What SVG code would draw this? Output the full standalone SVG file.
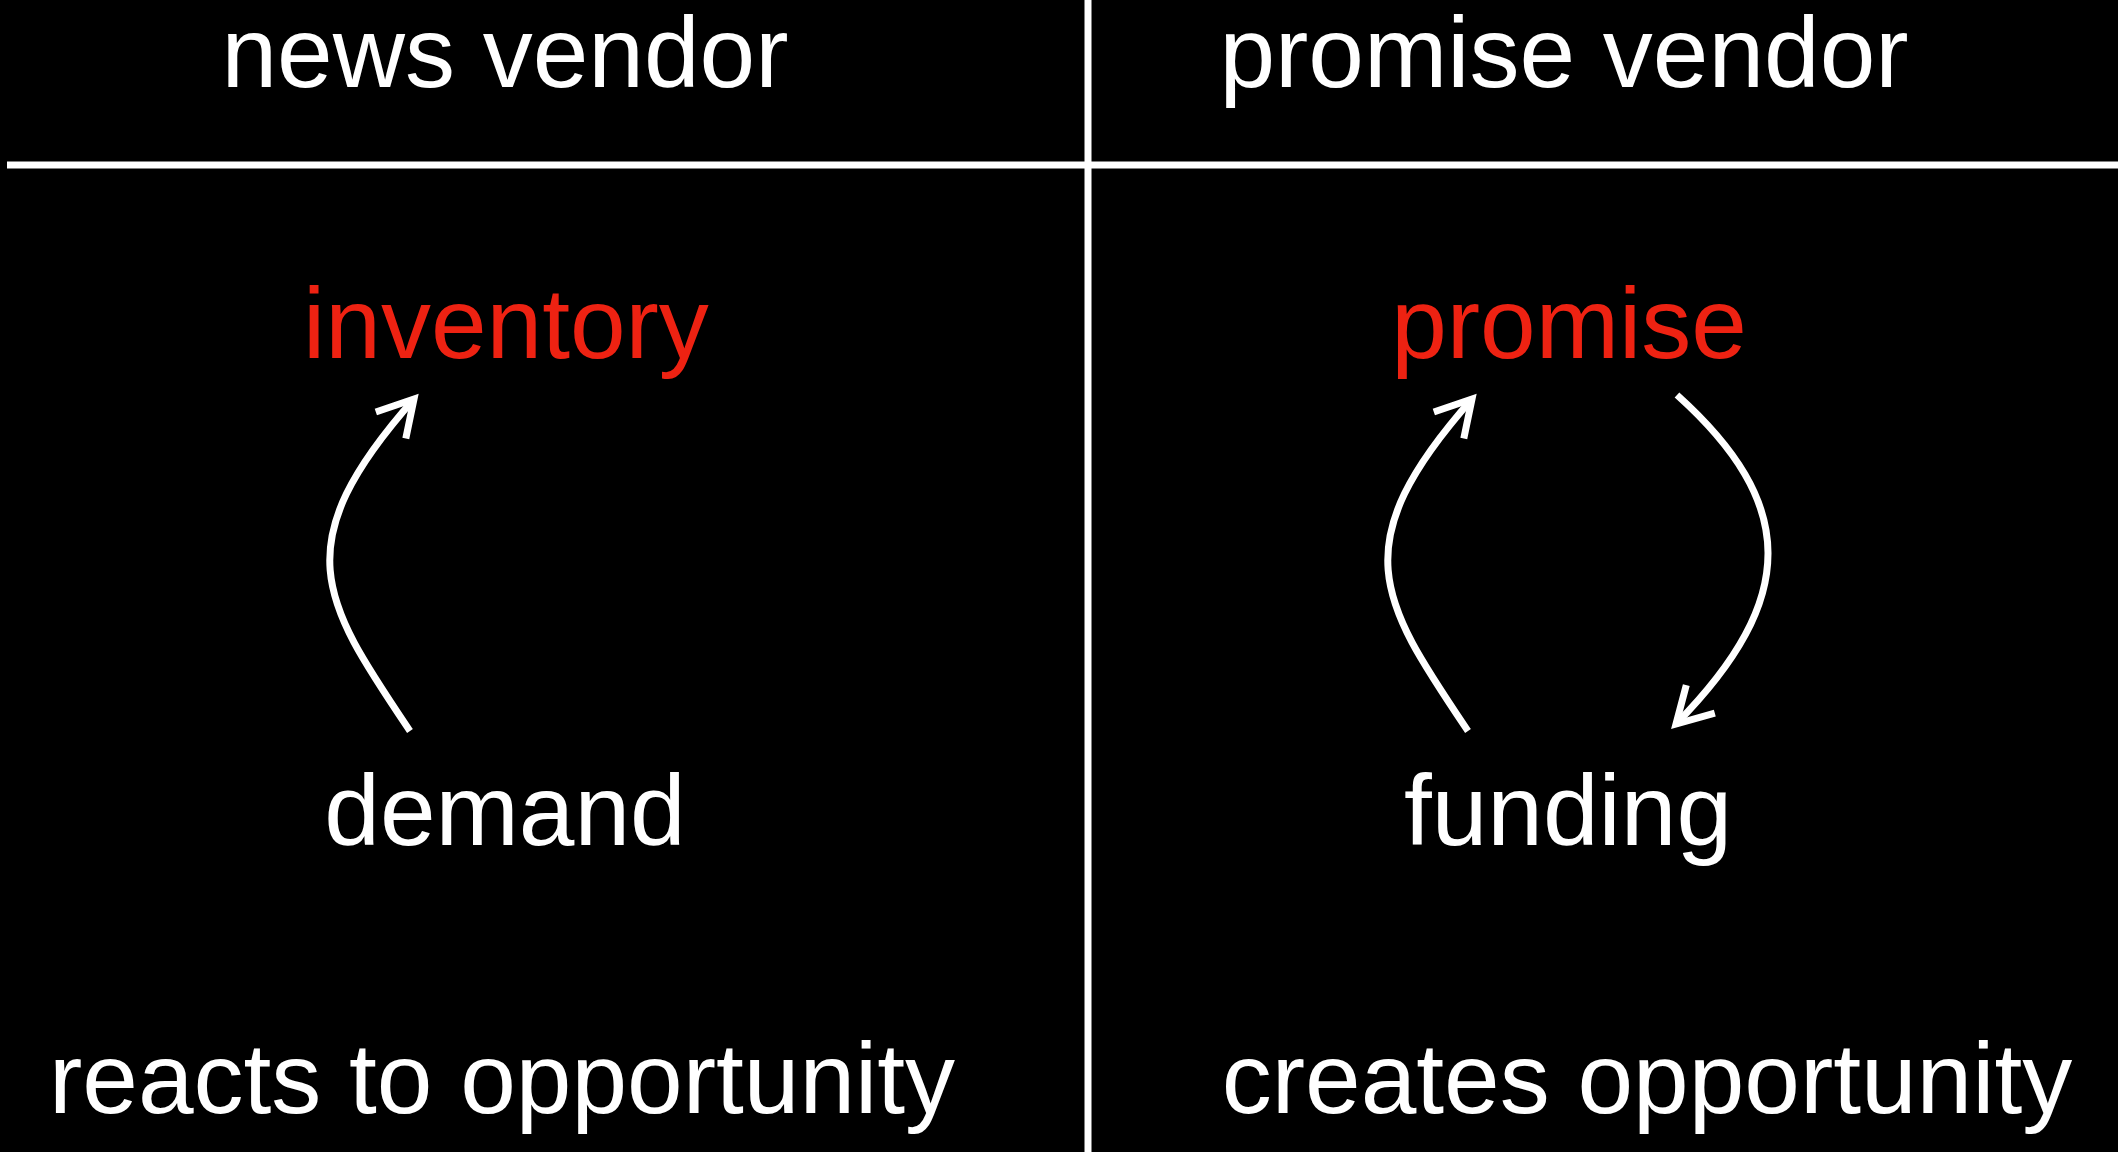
<svg xmlns="http://www.w3.org/2000/svg" width="2118" height="1152" viewBox="0 0 2118 1152">
  <style>
    text { font-family: "Liberation Sans", Arial, Helvetica, sans-serif; font-size: 100px; text-anchor: middle; }
    .white { fill: #FFFFFF; }
    .red { fill: #EE2212; }
    .rule { stroke: #FFFFFF; stroke-width: 7; fill: none; }
    .conn { stroke: #FFFFFF; stroke-width: 7; fill: none; marker-end: url(#open-arrow); }
  </style>
  <defs>
    <marker id="open-arrow" markerUnits="userSpaceOnUse" orient="auto" refX="0" refY="0" markerWidth="80" markerHeight="80" viewBox="-50 -40 80 80" overflow="visible">
      <path d="M-35,-20 L0,0 L-35,20" fill="none" stroke="#FFFFFF" stroke-width="7" stroke-linejoin="miter"/>
    </marker>
  </defs>
  <rect id="background" x="0" y="0" width="2118" height="1152" fill="#000000"/>

  <g id="grid">
    <line class="rule" x1="7" y1="165" x2="2118" y2="165"/>
    <line class="rule" x1="1088" y1="0" x2="1088" y2="1152"/>
  </g>

  <g id="headers">
    <text id="header-news" class="white" x="505" y="87">news vendor</text>
    <text id="header-promise" class="white" x="1564" y="87">promise vendor</text>
  </g>

  <g id="node-inventory"><text class="red" x="506" y="358">inventory</text></g>
  <g id="node-demand"><text class="white" x="505" y="845">demand</text></g>
  <g id="node-promise"><text class="red" x="1569" y="358">promise</text></g>
  <g id="node-funding"><text class="white" x="1568" y="845">funding</text></g>

  <g id="connectors">
    <path id="demand-to-inventory" class="conn" d="M410,731 C322,600 284,546 414,399"/>
    <path id="funding-to-promise" class="conn" d="M1468,731 C1380,600 1342,546 1472,399"/>
    <path id="promise-to-funding" class="conn" d="M1677,395 C1797,503 1800,598 1676,724"/>
  </g>

  <g id="captions">
    <text id="caption-left" class="white" x="502" y="1113">reacts to opportunity</text>
    <text id="caption-right" class="white" x="1647" y="1113">creates opportunity</text>
  </g>
</svg>
